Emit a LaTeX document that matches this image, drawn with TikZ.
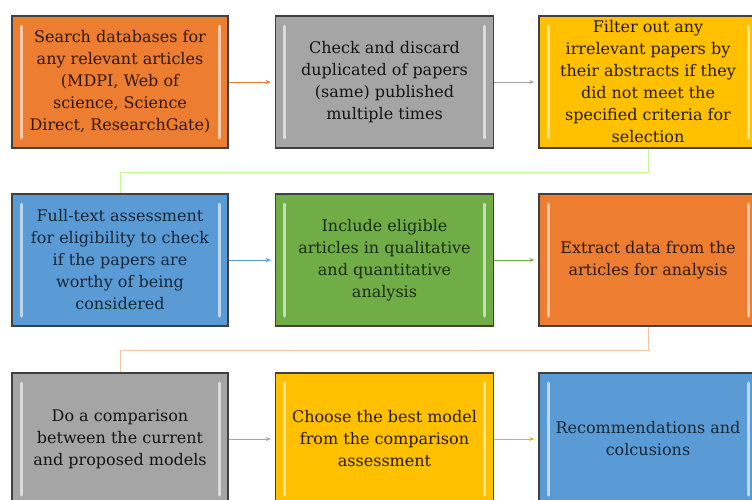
\documentclass[tikz,border=0pt]{standalone}
\usepackage{fontspec}
\setmainfont{DejaVu Serif}
\usetikzlibrary{arrows.meta, positioning}
\tikzset{>=Stealth}

\definecolor{boxorange}{HTML}{ED7D31}
\definecolor{boxgray}{HTML}{A5A5A5}
\definecolor{boxyellow}{HTML}{FFC000}
\definecolor{boxblue}{HTML}{5B9BD5}
\definecolor{boxgreen}{HTML}{70AD47}

\tikzset{
  stepbox/.style={draw=black!75, line width=1.3pt, minimum width=216pt, minimum height=132pt,
    inner sep=3pt, align=center, font=\fontsize{16}{22}\selectfont,
    path picture={
      \draw[white, opacity=.6, line width=3pt, line cap=round]
        ([xshift=9pt,yshift=-10pt]path picture bounding box.north west) -- ([xshift=9pt,yshift=10pt]path picture bounding box.south west)
        ([xshift=-9pt,yshift=-10pt]path picture bounding box.north east) -- ([xshift=-9pt,yshift=10pt]path picture bounding box.south east);}},
  orangebox/.style={stepbox, fill=boxorange, text=boxorange!20!black},
  graybox/.style={stepbox, fill=boxgray, text=black!92},
  yellowbox/.style={stepbox, fill=boxyellow, text=boxyellow!15!black},
  bluebox/.style={stepbox, fill=boxblue, text=boxblue!25!black},
  greenbox/.style={stepbox, fill=boxgreen, text=boxgreen!25!black},
  flow/.style={->, line width=0.8pt, shorten >=4pt, >={Stealth[length=5pt,width=4pt]}},
  turnline/.style={line width=0.9pt},
}

\begin{document}
\begin{tikzpicture}[x=1pt, y=-1pt]
  \useasboundingbox (0,0) rectangle (752,499);
  \clip (0,0) rectangle (752,499);
  % first row
  \node[orangebox] (search) at (120,82) {Search databases for\\any relevant articles\\(MDPI, Web of\\science, Science\\Direct, ResearchGate)};
  \node[graybox, minimum width=218pt] (dupl) at (384.5,82) {Check and discard\\duplicated of papers\\(same) published\\multiple times};
  \node[yellowbox, minimum width=218pt] (filter) at (648,82) {Filter out any\\irrelevant papers by\\their abstracts if they\\did not meet the\\specified criteria for\\selection};
  % second row
  \node[bluebox] (full) at (120,260) {Full-text assessment\\for eligibility to check\\if the papers are\\worthy of being\\considered};
  \node[greenbox, minimum width=218pt] (incl) at (384.5,260) {Include eligible\\articles in qualitative\\and quantitative\\analysis};
  \node[orangebox, minimum width=218pt] (extr) at (648,260) {Extract data from the\\articles for analysis};
  % third row
  \node[graybox] (comp) at (120,439) {Do a comparison\\between the current\\and proposed models};
  \node[yellowbox, minimum width=218pt] (best) at (384.5,439) {Choose the best model\\from the comparison\\assessment};
  \node[bluebox, minimum width=218pt] (recom) at (648,439) {Recommendations and\\colcusions};
  % connectors
  \draw[flow, boxorange] (search) -- (dupl);
  \draw[flow, boxgray] (dupl) -- (filter);
  \draw[flow, boxblue] (full) -- (incl);
  \draw[flow, boxgreen] (incl) -- (extr);
  \draw[flow, boxgray] (comp) -- (best);
  \draw[flow, boxyellow!80!olive] (best) -- (recom);
  \coordinate (turnA) at (648,172);
  \coordinate (turnB) at (648,350);
  \draw[turnline, boxyellow!45!green!40!white] (filter.south) -- (turnA) -| (full.north);
  \draw[turnline, boxorange!45!white] (extr.south) -- (turnB) -| (comp.north);
\end{tikzpicture}
\end{document}
